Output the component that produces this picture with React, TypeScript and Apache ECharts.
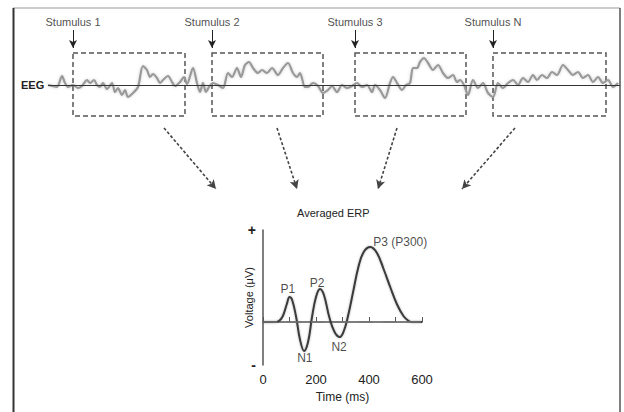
import React, { useEffect, useRef } from "react";
import * as echarts from "echarts";

// ---- EEG trace (sample position, amplitude) ----
const eegX = [48,52,57,62,65,68,73,78,82,87,90,94,97,100,103,107,112,115,118,122,125,128,133,138,143,147,150,153,157,160,163,168,172,175,180,184,187,193,197,200,203,206,209,213,218,223,228,232,237,241,245,249,253,258,262,267,272,278,283,288,293,297,300,305,308,313,318,323,328,332,337,342,347,352,357,362,367,372,375,380,385,390,393,397,402,406,410,413,417,420,424,428,433,438,443,448,453,457,460,464,468,473,478,483,488,493,498,503,508,513,518,523,528,533,537,542,547,552,557,563,568,573,578,583,588,593,598,603,608,613,618];
const eegV = [0,-1,-2,9,2,-2,0,-3,-1,5,2,5,0,-2,2,-4,2,-7,-3,-10,-5,-12,-8,-2,19,15,8,11,7,2,5,9,3,-1,3,8,1,17,2,-7,2,-7,-2,2,0,-3,12,8,17,8,20,23,17,12,15,12,17,10,17,22,12,8,12,-2,-2,2,-1,-8,-5,-1,-7,0,-3,-1,2,-2,0,-7,0,-5,-13,2,8,2,-5,0,2,17,17,23,27,22,15,20,12,7,10,3,5,0,-10,5,-3,2,-8,-12,2,-3,2,5,0,7,3,10,5,10,7,13,10,20,15,10,13,7,10,3,8,2,5,-2,2];

// ---- stimuli and epochs ----
const stimNames = ["Stumulus 1", "Stumulus 2", "Stumulus 3", "Stumulus N"];
const stimX = [73, 212, 355, 493];
const epochEnd = [185, 323, 466, 606];

// ---- averaged ERP ----
const erpT = [0,40,60,75,90,100,110,125,140,155,170,185,200,215,230,250,270,290,305,320,340,360,380,405,430,455,480,505,530,550,565,600];
const erpV = [0,0,0.1,0.6,1.8,2.5,2.2,0.5,-1.8,-2.9,-2.0,0.5,2.5,3.3,2.7,0.5,-1.0,-1.5,-0.9,0.5,3.0,5.5,7.0,7.5,6.9,5.3,3.5,1.8,0.6,0.1,0,0];
const peakNames = ["P1", "N1", "P2", "N2", "P3 (P300)"];
const peakT = [94, 158, 204, 287, 518];
const peakV = [3.3, -3.6, 3.9, -2.5, 8.0];
const timeTicks = [0, 200, 400, 600];

const FONT = "'Liberation Sans', Arial, sans-serif";

export default function App() {
  const ref = useRef<HTMLDivElement>(null);
  useEffect(() => {
    if (!ref.current) return;
    const chart = echarts.init(ref.current, undefined, { renderer: "svg" });

    const eegData = eegX.map((x, i) => [x, eegV[i]]);
    const erpData = erpT.map((t, i) => [t, erpV[i]]);

    const boxTop = 32, boxBot = -31;
    const arrowTopV = 55, arrowBotV = 37;
    const dashedArrows = [
      [[164, -43], [216, -104]],
      [[277, -43], [297, -104]],
      [[397, -43], [378, -104]],
      [[515, -43], [462, -104]],
    ];

    const option: any = {
      animation: false,
      backgroundColor: "#ffffff",
      textStyle: { fontFamily: FONT },
      grid: [
        { left: 48, right: 4, top: 20, bottom: 222 },
        { left: 263, right: 202, top: 230, bottom: 47 },
      ],
      xAxis: [
        { gridIndex: 0, type: "value", min: 48, max: 620, show: false },
        {
          gridIndex: 1, type: "value", min: 0, max: 600, interval: 100,
          name: "Time (ms)", nameLocation: "middle", nameGap: 26,
          nameTextStyle: { fontSize: 12, color: "#222", fontFamily: FONT },
          axisLine: { lineStyle: { color: "#555", width: 1.5 } },
          axisTick: { show: true, inside: true, length: 5, lineStyle: { color: "#555", width: 1 } },
          axisLabel: {
            fontSize: 13, color: "#222", margin: 8,
            formatter: (v: number) => (timeTicks.indexOf(v) >= 0 ? String(v) : ""),
          },
          splitLine: { show: false },
        },
      ],
      yAxis: [
        { gridIndex: 0, type: "value", min: -105, max: 65, show: false },
        {
          gridIndex: 1, type: "value", min: -4.3, max: 9.2,
          name: "Voltage (μV)", nameLocation: "middle", nameGap: 9, nameRotate: 90,
          nameMoveOverlap: false,
          nameTextStyle: { fontSize: 11, color: "#222", fontFamily: FONT },
          axisLine: { show: true, lineStyle: { color: "#555", width: 1.5 } },
          axisTick: { show: false },
          splitLine: { show: false },
          axisLabel: {
            showMinLabel: true, showMaxLabel: true, margin: 7,
            fontSize: 14, fontWeight: "bold", color: "#222",
            formatter: (v: number) => (Math.abs(v - 9.2) < 1e-6 ? "+" : Math.abs(v + 4.3) < 1e-6 ? "-" : ""),
          },
        },
      ],
      graphic: [
        { type: "line", shape: { x1: 13, y1: 8, x2: 620, y2: 8 }, style: { stroke: "#999", lineWidth: 1 } },
        { type: "line", shape: { x1: 13.5, y1: 8, x2: 13.5, y2: 412 }, style: { stroke: "#333", lineWidth: 2 } },
        { type: "line", shape: { x1: 620, y1: 8, x2: 620, y2: 412 }, style: { stroke: "#555", lineWidth: 1.5 } },
        { type: "text", left: 21, top: 79, style: { text: "EEG", font: `bold 11px ${FONT}`, fill: "#222" } },
        { type: "text", left: 297, top: 207, style: { text: "Averaged ERP", font: `11px ${FONT}`, fill: "#222" } },
      ],
      series: [
        {
          type: "line", xAxisIndex: 0, yAxisIndex: 0, data: eegData, clip: false,
          smooth: 0.3, showSymbol: false, silent: true,
          lineStyle: { color: "#999", width: 2.2, shadowBlur: 3, shadowColor: "rgba(0,0,0,0.2)" },
          markArea: {
            silent: true,
            itemStyle: { color: "rgba(0,0,0,0)", borderColor: "#555", borderWidth: 1.5, borderType: [5, 3] },
            data: stimX.map((x, i) => [{ coord: [x, boxTop] }, { coord: [epochEnd[i], boxBot] }]),
          },
          markLine: {
            silent: true, symbol: ["none", "none"], label: { show: false },
            lineStyle: { color: "#333", width: 1.2, type: "solid" },
            data: [[{ coord: [48, 0] }, { coord: [620, 0] }]],
          },
          z: 3,
        },
        {
          type: "scatter", xAxisIndex: 0, yAxisIndex: 0, symbolSize: 0, silent: true, clip: false,
          data: stimX.map((x, i) => [x, 63, stimNames[i]]),
          label: { show: true, position: "inside", formatter: (p: any) => p.data[2], fontSize: 11, color: "#1a1a1a", fontFamily: FONT },
          markLine: {
            silent: true, symbol: ["none", "arrow"], symbolSize: [6, 8], label: { show: false },
            lineStyle: { color: "#222", width: 1, type: "solid" },
            data: stimX.map((x) => [{ coord: [x, arrowTopV] }, { coord: [x, arrowBotV] }]),
          },
        },
        {
          type: "line", xAxisIndex: 0, yAxisIndex: 0, data: [], clip: false,
          markLine: {
            silent: true, symbol: ["none", "arrow"], symbolSize: [7, 9], label: { show: false },
            lineStyle: { color: "#444", width: 1.6, type: [3, 2] },
            itemStyle: { color: "#333" },
            data: dashedArrows.map((a) => [{ coord: a[0] }, { coord: a[1] }]),
          },
        },
        {
          type: "line", xAxisIndex: 1, yAxisIndex: 1, data: erpData, clip: false,
          smooth: 0.4, showSymbol: false, silent: true,
          lineStyle: { color: "#3a3a3a", width: 2, shadowBlur: 2, shadowColor: "rgba(0,0,0,0.3)" },
          markLine: {
            silent: true, symbol: ["none", "none"], label: { show: false },
            lineStyle: { color: "#777", width: 1.5, type: [14, 10] },
            data: [{ yAxis: 0 }],
          },
          z: 3,
        },
        {
          type: "scatter", xAxisIndex: 1, yAxisIndex: 1, symbolSize: 0, silent: true, clip: false,
          data: peakT.map((t, i) => [t, peakV[i], peakNames[i]]),
          label: { show: true, position: "inside", formatter: (p: any) => p.data[2], fontSize: 12, color: "#1a1a1a", fontFamily: FONT },
        },
      ],
    };

    chart.setOption(option);
    return () => chart.dispose();
  }, []);

  return (
    <div
      ref={ref}
      style={{ position: "fixed", left: 0, top: 0, width: 624, height: 412, background: "#fff" }}
    />
  );
}
